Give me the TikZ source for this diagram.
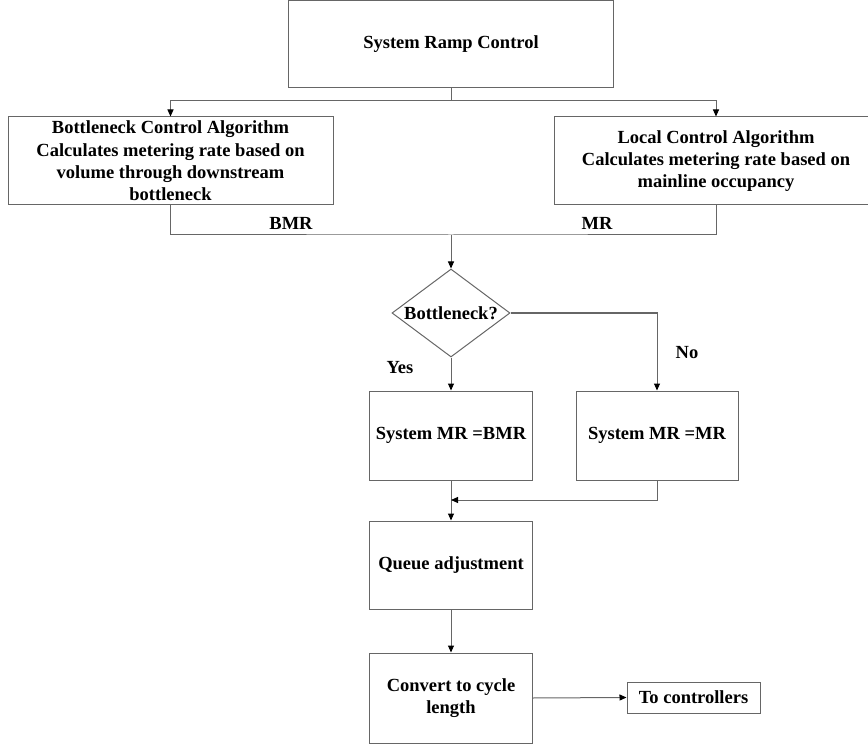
\documentclass[tikz,border=0pt]{standalone}
\usepackage{fontspec}
\setmainfont{Liberation Serif}
\usetikzlibrary{shapes.geometric,arrows.meta}
\begin{document}
\begin{tikzpicture}[x=1pt,y=-1pt,
  every node/.style={font=\fontsize{18.5}{22.4}\selectfont\bfseries, text=black},
  box/.style={draw=black!60, line width=1pt, align=center, inner sep=0pt},
  dec/.style={draw=black!60, line width=1pt, diamond, aspect=1.34, inner sep=0pt, minimum width=118pt, minimum height=88pt},
  ln/.style={draw=black!60, line width=1pt},
  arr/.style={ln, -{Triangle[length=7pt,width=6pt,fill=black,color=black]}},
  lbl/.style={inner sep=0pt}]
\useasboundingbox (0,0) rectangle (868,746);
\clip (0,0) rectangle (868,746);
\node[box, minimum width=325pt, minimum height=87pt] (top) at (451,44) {System Ramp Control};
\node[box, minimum width=325pt, minimum height=88pt] (bot) at (170.5,161) {Bottleneck Control Algorithm\\Calculates metering rate based on\\volume through downstream\\bottleneck};
\node[box, minimum width=324pt, minimum height=88pt] (loc) at (716,161) {Local Control Algorithm\\Calculates metering rate based on\\mainline occupancy};
\node[dec] (dia) at (451,313) {Bottleneck?};
\node[box, minimum width=163pt, minimum height=89pt] (smr1) at (451,435.5) {System MR =BMR};
\node[box, minimum width=162pt, minimum height=89pt] (smr2) at (657,435.5) {System MR =MR};
\node[box, minimum width=163pt, minimum height=88pt] (queue) at (451,565) {Queue adjustment};
\node[box, minimum width=163pt, minimum height=90pt] (conv) at (451,698) {Convert to cycle\\length};
\node[box, minimum width=133pt, minimum height=31pt] (ctrl) at (693.5,697.5) {To controllers};
\node[lbl] (bmr) at (291,223) {BMR};
\node[lbl] (mr) at (597,223) {MR};
\node[lbl] (yes) at (400,368) {Yes};
\node[lbl] (no) at (687,353) {No};
\coordinate (j1) at (451,101);
\coordinate (j2) at (451,235);
\coordinate (j3) at (451,500);
\draw[ln] (top.south) -- (j1);
\draw[arr] (j1) -| (bot.north);
\draw[arr] (j1) -| (loc.north);
\draw[ln] (bot.south) |- (j2) -| (loc.south);
\draw[arr] (j2) -- (dia.north);
\draw[arr] (dia.east) -| (smr2.north);
\draw[arr] (dia.south) -- (smr1.north);
\draw[arr] (smr1.south) -- (queue.north);
\draw[arr] (smr2.south) |- (j3);
\draw[arr] (queue.south) -- (conv.north);
\draw[arr] (conv.east) -- (ctrl.west);
\end{tikzpicture}
\end{document}
